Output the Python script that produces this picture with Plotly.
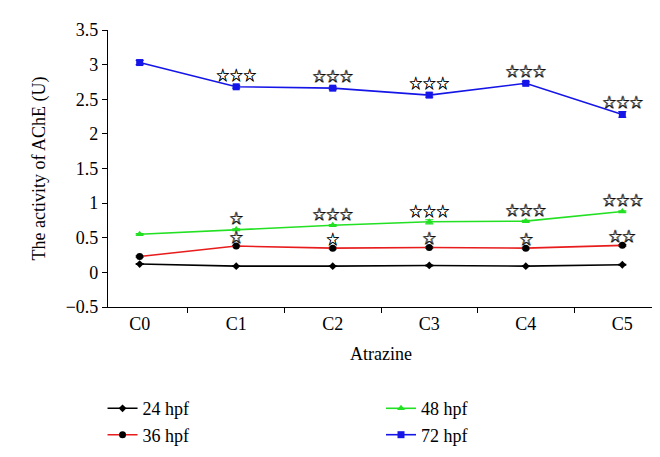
import plotly.graph_objects as go

categories = ["C0", "C1", "C2", "C3", "C4", "C5"]

hpf24 = [0.12, 0.09, 0.09, 0.10, 0.09, 0.11]
hpf36 = [0.23, 0.38, 0.35, 0.36, 0.35, 0.39]
hpf48 = [0.55, 0.62, 0.68, 0.73, 0.74, 0.88]
hpf72 = [3.03, 2.68, 2.66, 2.56, 2.73, 2.28]

err24 = [0.005, 0.005, 0.005, 0.005, 0.005, 0.005]
err36 = [0.01, 0.01, 0.01, 0.01, 0.01, 0.01]
err48 = [0.01, 0.01, 0.01, 0.03, 0.01, 0.01]
err72 = [0.03, 0.02, 0.02, 0.03, 0.02, 0.04]

stars36 = ["", "☆", "☆", "☆", "☆", "☆☆"]
stars48 = ["", "☆", "☆☆☆", "☆☆☆", "☆☆☆", "☆☆☆"]
stars72 = ["", "☆☆☆", "☆☆☆", "☆☆☆", "☆☆☆", "☆☆☆"]

yticks = [-0.5, 0, 0.5, 1, 1.5, 2, 2.5, 3, 3.5]
ytick_text = ["−0.5", "0", "0.5", "1", "1.5", "2", "2.5", "3", "3.5"]

FONT = "Liberation Serif, Times New Roman, serif"

fig = go.Figure()

series = [
    ("24 hpf", hpf24, err24, "black", "black", "diamond", 6, "legend"),
    ("36 hpf", hpf36, err36, "#e81c1c", "black", "circle", 7, "legend"),
    ("48 hpf", hpf48, err48, "#22e022", "#22e022", "triangle-up", 7, "legend2"),
    ("72 hpf", hpf72, err72, "#1515e8", "#1515e8", "square", 7, "legend2"),
]

for name, vals, err, lc, mc, sym, size, leg in series:
    fig.add_trace(go.Scatter(
        x=categories, y=vals, name=name, mode="lines+markers",
        line=dict(color=lc, width=1.6),
        marker=dict(color=mc, symbol=sym, size=size),
        error_y=dict(type="data", array=err, color=mc, thickness=1.2, width=4),
        legend=leg,
    ))

# significance stars, drawn twice with a small offset to thicken the outline
for vals, stars, shift in [(hpf36, stars36, 10), (hpf48, stars48, 12), (hpf72, stars72, 13)]:
    for c, v, s in zip(categories, vals, stars):
        if s:
            for dx in (0, 0.7):
                fig.add_annotation(x=c, y=v, text=s, showarrow=False,
                                   yshift=shift, xshift=dx,
                                   font=dict(family="Noto Sans CJK SC", size=13.5,
                                             color="black", weight="bold"))

fig.update_layout(
    width=660, height=457,
    margin=dict(l=100, r=14, t=22, b=153),
    plot_bgcolor="white", paper_bgcolor="white",
    font=dict(family=FONT, size=18, color="black"),
    xaxis=dict(
        title=dict(text="Atrazine", font=dict(family=FONT, size=18), standoff=14),
        tickfont=dict(family=FONT, size=18),
        showline=True, linecolor="black", linewidth=1.2,
        ticks="outside", tickson="boundaries", ticklen=5, tickcolor="black",
        showgrid=False, zeroline=False,
    ),
    yaxis=dict(
        title=dict(text="The activity of AChE (U)", font=dict(family=FONT, size=18)),
        tickfont=dict(family=FONT, size=18),
        range=[-0.5, 3.5], tickvals=yticks, ticktext=ytick_text,
        showline=True, linecolor="black", linewidth=1.2,
        ticks="outside", ticklen=5, tickcolor="black",
        showgrid=False, zeroline=False,
    ),
    legend=dict(x=-0.01, y=-0.3, xanchor="left", yanchor="top",
                font=dict(family=FONT, size=18), bgcolor="rgba(0,0,0,0)", tracegroupgap=0),
    legend2=dict(x=0.5, y=-0.3, xanchor="left", yanchor="top",
                 font=dict(family=FONT, size=18), bgcolor="rgba(0,0,0,0)", tracegroupgap=0),
)

fig.write_html("out.html")
